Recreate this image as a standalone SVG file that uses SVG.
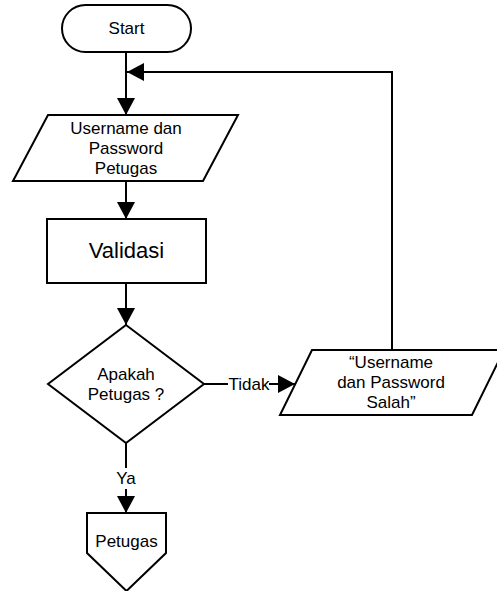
<svg xmlns="http://www.w3.org/2000/svg" width="497" height="591" viewBox="0 0 497 591">
<defs>
<style>
.s{fill:#fff;stroke:#000;stroke-width:2}
.c{fill:none;stroke:#000;stroke-width:2}
.t{font-family:"Liberation Sans",Arial,sans-serif;font-size:17px;fill:#000;text-anchor:middle}
.big{font-size:22px}
</style>
<marker id="ah" markerUnits="userSpaceOnUse" markerWidth="18" markerHeight="18" refX="17" refY="9" orient="auto">
<path d="M0,0 L17,9 L0,18 z" fill="#000"/>
</marker>
</defs>
<rect width="497" height="591" fill="#fff"/>
<g id="connectors">
<line class="c" x1="126" y1="52" x2="126" y2="115" marker-end="url(#ah)"/>
<polyline class="c" points="392,350 392,72 127,72" marker-end="url(#ah)"/>
<line class="c" x1="126" y1="181" x2="126" y2="219" marker-end="url(#ah)"/>
<line class="c" x1="126" y1="283" x2="126" y2="325" marker-end="url(#ah)"/>
<line class="c" x1="204" y1="384" x2="228" y2="384"/>
<line class="c" x1="269" y1="384" x2="295" y2="384" marker-end="url(#ah)"/>
<text class="t" x="249" y="390">Tidak</text>
<line class="c" x1="126" y1="443" x2="126" y2="468"/>
<line class="c" x1="126" y1="489" x2="126" y2="513" marker-end="url(#ah)"/>
<text class="t" x="126" y="484">Ya</text>
</g>
<g id="start">
<rect class="s" x="62" y="5" width="129" height="47" rx="23.5" ry="23.5"/>
<text class="t" x="126.5" y="34">Start</text>
</g>
<g id="input">
<polygon class="s" points="48,115 238,115 203,181 13,181"/>
<text class="t" x="126" y="134">Username dan</text>
<text class="t" x="126" y="154">Password</text>
<text class="t" x="126" y="174">Petugas</text>
</g>
<g id="validasi">
<rect class="s" x="47" y="219" width="159" height="64"/>
<text class="t big" x="126.5" y="258">Validasi</text>
</g>
<g id="decision">
<polygon class="s" points="126,325 204,384 126,443 48,384"/>
<text class="t" x="126" y="380">Apakah</text>
<text class="t" x="126" y="400">Petugas ?</text>
</g>
<g id="error">
<polygon class="s" points="312,350 504,350 472,415 280,415"/>
<text class="t" x="391" y="368">“Username</text>
<text class="t" x="391" y="388">dan Password</text>
<text class="t" x="391" y="408">Salah”</text>
</g>
<g id="petugas">
<polygon class="s" points="87,513 166,513 166,553 126.5,591 87,553"/>
<text class="t" x="126.5" y="547">Petugas</text>
</g>
</svg>
